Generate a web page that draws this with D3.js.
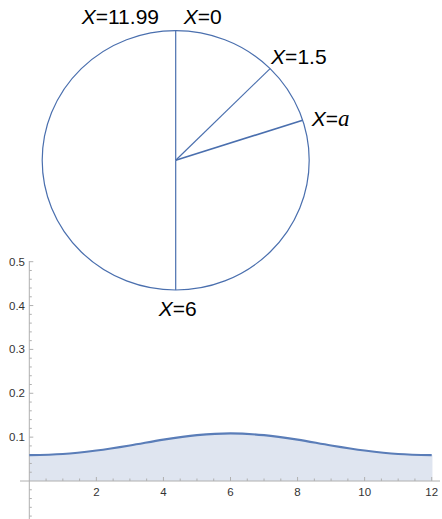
<!DOCTYPE html>
<html><head><meta charset="utf-8">
<script src="https://cdn.jsdelivr.net/npm/d3@7"></script>
<style>body{margin:0;background:#fff}svg{display:block}</style>
</head><body>
<svg id="c" width="442" height="519"></svg>
<script>
// Clock-face marks (time on a 12-unit circle)
const clockMarks = [
  {t: 0,     label: "0"},
  {t: 1.5,   label: "1.5"},
  {t: 2.4,   label: "a", italic: true},
  {t: 6,     label: "6"},
  {t: 11.99, label: "11.99"}
];
// Density curve values
const xs = [0, 1, 2, 3, 4, 5, 6, 7, 8, 9, 10, 11, 12];
const ys = [0.059, 0.0615, 0.0695, 0.081, 0.0945, 0.1045, 0.1085, 0.1045, 0.0945, 0.081, 0.0695, 0.0615, 0.059];
const xTicks = [2, 4, 6, 8, 10, 12];
const yTicks = [0.1, 0.2, 0.3, 0.4, 0.5];

const svg = d3.select("#c");
const blue = "#4a6fae";

// ---------- circle ----------
const cx = 175.7, cy = 160.3, rx = 133.5, ry = 129.7;
const ang = d3.scaleLinear().domain([0, 12]).range([0, 2 * Math.PI]);
const px = t => cx + rx * Math.sin(ang(t));
const py = t => cy - ry * Math.cos(ang(t));

svg.append("ellipse").attr("cx", cx).attr("cy", cy).attr("rx", rx).attr("ry", ry)
  .attr("fill", "none").attr("stroke", blue).attr("stroke-width", 1.2);

svg.selectAll("line.rad").data(clockMarks.filter(d => d.t !== 11.99)).join("line").attr("class", "rad")
  .attr("x1", cx).attr("y1", cy)
  .attr("x2", d => px(d.t)).attr("y2", d => py(d.t))
  .attr("stroke", blue).attr("stroke-width", d => d.italic ? 1.6 : 1.2);

const offs = {
  "0": {dx: 8, dy: -7, anchor: "start"},
  "1.5": {dx: 1, dy: -5, anchor: "start"},
  "a": {dx: 9, dy: 6, anchor: "start"},
  "6": {dx: -17, dy: 26, anchor: "start"},
  "11.99": {dx: -16, dy: -7, anchor: "end"}
};
const labs = svg.selectAll("text.clk").data(clockMarks).join("text").attr("class", "clk")
  .attr("x", d => px(d.t) + offs[d.label].dx)
  .attr("y", d => py(d.t) + offs[d.label].dy)
  .attr("text-anchor", d => offs[d.label].anchor)
  .style("font-family", "'Liberation Sans', Arial, sans-serif")
  .style("font-size", "21px").attr("fill", "#000");
labs.append("tspan").style("font-style", "italic").text("X");
labs.append("tspan").text("=");
labs.append("tspan")
  .style("font-style", d => d.italic ? "italic" : null)
  .style("font-family", d => d.italic ? "'Liberation Serif', 'DejaVu Serif', serif" : null)
  .style("font-size", d => d.italic ? "23px" : null)
  .text(d => d.label);

// ---------- density plot ----------
const x = d3.scaleLinear().domain([0, 12]).range([29.3, 431.7]);
const y = d3.scaleLinear().domain([0, 0.5]).range([481, 261.7]);
const data = xs.map((v, i) => ({x: v, y: ys[i]}));
const gray = "#b0b0b0";

svg.append("path").datum(data)
  .attr("d", d3.area().x(d => x(d.x)).y0(y(0)).y1(d => y(d.y)).curve(d3.curveCatmullRom))
  .attr("fill", "#dfe5f0");
svg.append("line").attr("x1", x(12)).attr("x2", x(12)).attr("y1", y(0)).attr("y2", y(ys[ys.length-1]))
  .attr("stroke", "#dfe5f0").attr("stroke-width", 1.5);

// axes
svg.append("line").attr("x1", 20).attr("x2", 440).attr("y1", y(0)).attr("y2", y(0))
  .attr("stroke", gray).attr("stroke-width", 1);
svg.append("line").attr("x1", x(0)).attr("x2", x(0)).attr("y1", 261).attr("y2", 519)
  .attr("stroke", gray).attr("stroke-width", 1);

// x ticks
const xMinor = d3.range(0.5, 12.01, 0.5);
svg.selectAll("line.xt").data(xMinor).join("line").attr("class", "xt")
  .attr("x1", d => x(d)).attr("x2", d => x(d))
  .attr("y1", y(0)).attr("y2", d => y(0) - (Number.isInteger(d / 2) ? 4 : 2.5))
  .attr("stroke", gray);
svg.selectAll("text.xl").data(xTicks).join("text").attr("class", "xl")
  .attr("x", d => x(d)).attr("y", 496).attr("text-anchor", "middle")
  .style("font-family", "'Liberation Sans', Arial, sans-serif").style("font-size", "11.5px").attr("fill", "#333")
  .text(d => d);

// y ticks
const yMinor = d3.range(-0.08, 0.501, 0.02).filter(v => Math.abs(v) > 1e-9);
svg.selectAll("line.yt").data(yMinor).join("line").attr("class", "yt")
  .attr("x1", x(0)).attr("x2", d => x(0) + (Math.abs(Math.round(d * 10) - d * 10) < 1e-6 ? 4 : 2.5))
  .attr("y1", d => y(d)).attr("y2", d => y(d))
  .attr("stroke", gray);
svg.selectAll("text.yl").data(yTicks).join("text").attr("class", "yl")
  .attr("x", 25).attr("y", d => y(d) + 4).attr("text-anchor", "end")
  .style("font-family", "'Liberation Sans', Arial, sans-serif").style("font-size", "11.5px").attr("fill", "#333")
  .text(d => d.toFixed(1));

// curve
svg.append("path").datum(data)
  .attr("d", d3.line().x(d => x(d.x)).y(d => y(d.y)).curve(d3.curveCatmullRom))
  .attr("fill", "none").attr("stroke", "#5a7db8").attr("stroke-width", 2.2);
</script>
</body></html>
